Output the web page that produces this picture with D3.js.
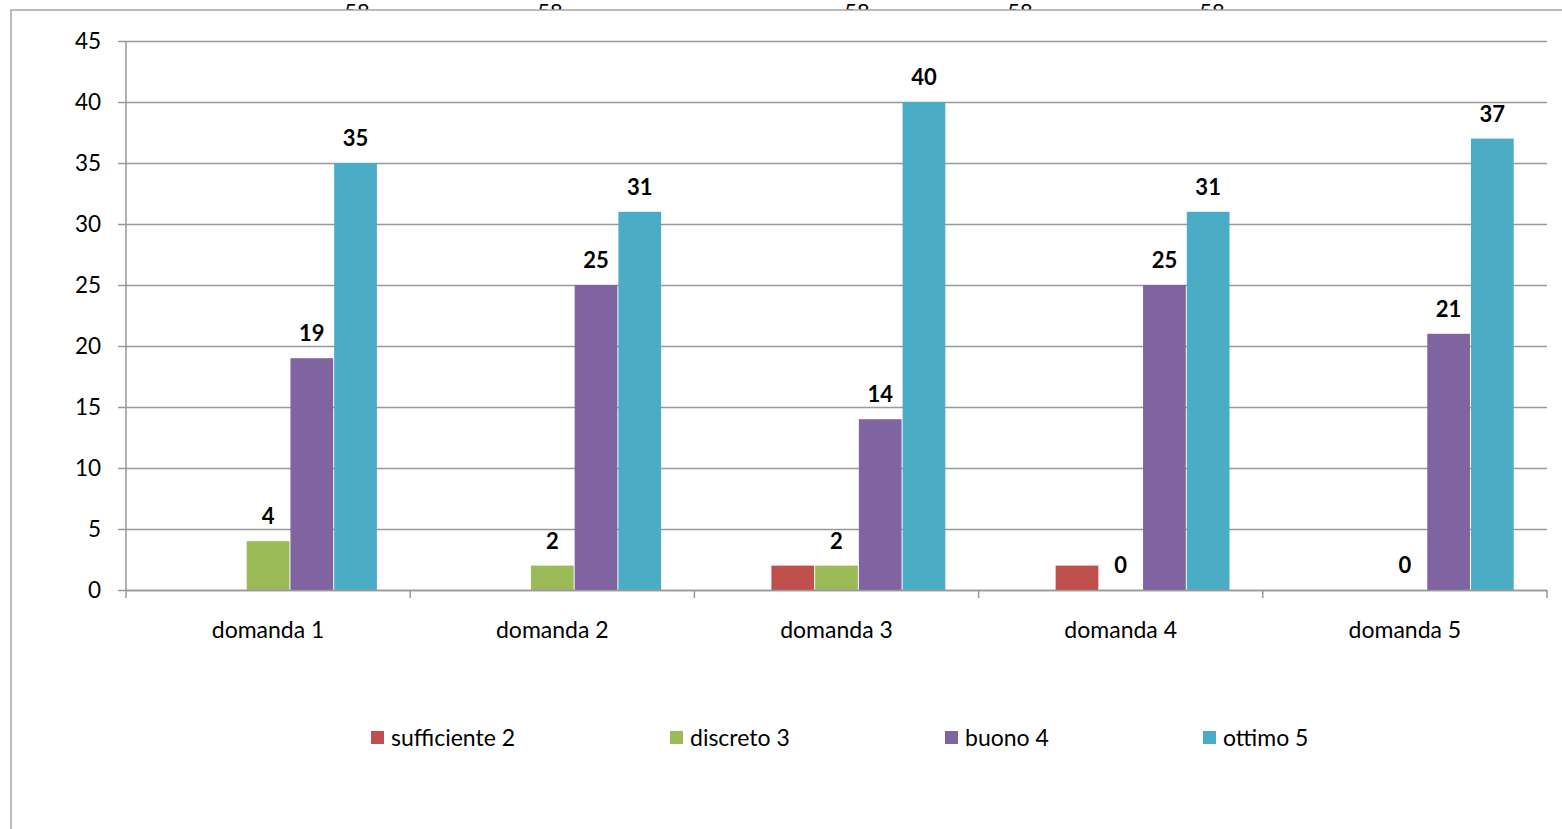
<!DOCTYPE html>
<html>
<head>
<meta charset="utf-8">
<script src="https://cdn.jsdelivr.net/npm/d3@7"></script>
<style>
body { margin:0; background:#fff; }
svg text { font-family: Lato, "Open Sans", sans-serif; fill:#000; }
</style>
</head>
<body>
<svg id="chart" width="1562" height="829"></svg>
<script>
// data
var categories = ["domanda 1","domanda 2","domanda 3","domanda 4","domanda 5"];
var seriesNames = ["totale","sufficiente 2","discreto 3","buono 4","ottimo 5"];
var totale      = [58,58,58,58,58];
var sufficiente = [0,0,2,2,0];
var discreto    = [4,2,2,0,0];
var buono       = [19,25,14,25,21];
var ottimo      = [35,31,40,31,37];
var yTicks = [0,5,10,15,20,25,30,35,40,45];
// where the (clipped) total labels sit, in category units along the axis
var totaleLabelPos = [0.813,1.492,2.572,3.146,3.821];

var colors = {"sufficiente 2":"#C0504D","discreto 3":"#9BBB59","buono 4":"#8064A2","ottimo 5":"#4BACC6"};
var values = {"totale":totale,"sufficiente 2":sufficiente,"discreto 3":discreto,"buono 4":buono,"ottimo 5":ottimo};
var showLabels = {"totale":false,"sufficiente 2":false,"discreto 3":true,"buono 4":true,"ottimo 5":true};

var svg = d3.select("#chart");
var plotLeft = 126, plotRight = 1547, plotTop = 41, plotBottom = 590;

var x0 = d3.scaleBand().domain(categories).range([plotLeft,plotRight]).padding(0);
var bw = x0.bandwidth();
var gap = bw*0.75/6.5;
var x1 = d3.scaleBand().domain(seriesNames).range([gap, bw-gap]).padding(0);
var xPos = d3.scaleLinear().domain([0,5]).range([plotLeft,plotRight]);
var y = d3.scaleLinear().domain([0,45]).range([plotBottom,plotTop]);

// clipped total labels behind the chart area
svg.append("g").selectAll("text").data(totale).enter().append("text")
	.attr("x",function(d,i){return xPos(totaleLabelPos[i])})
	.attr("y",19)
	.attr("text-anchor","middle")
	.style("font-size","22px")
	.text(function(d){return d});

// chart area
svg.append("rect")
	.attr("x",11).attr("y",10).attr("width",1600).attr("height",900)
	.attr("fill","#fff").attr("stroke","#a6a6a6").attr("stroke-width",1.5);

// gridlines + y ticks
var gy = svg.append("g");
gy.selectAll("line").data(yTicks).enter().append("line")
	.attr("x1",118).attr("x2",plotRight)
	.attr("y1",function(d){return Math.round(y(d))+0.5})
	.attr("y2",function(d){return Math.round(y(d))+0.5})
	.attr("stroke","#999").attr("stroke-width",1.5);
gy.selectAll("text").data(yTicks).enter().append("text")
	.attr("x",101)
	.attr("y",function(d){return y(d)+8})
	.attr("text-anchor","end")
	.style("font-size","22.5px")
	.text(function(d){return d});

// bars
var groups = svg.append("g").selectAll("g").data(categories).enter().append("g")
	.attr("transform",function(d){return "translate("+x0(d)+",0)"});

seriesNames.slice(1).forEach(function(s){
	groups.append("rect")
		.attr("x",x1(s)+0.5)
		.attr("width",x1.bandwidth()-1)
		.attr("y",function(d,i){return y(values[s][i])})
		.attr("height",function(d,i){return plotBottom-y(values[s][i])})
		.attr("fill",colors[s]);
});

// axes lines
svg.append("line").attr("x1",plotLeft).attr("x2",plotLeft).attr("y1",plotTop).attr("y2",plotBottom)
	.attr("stroke","#999").attr("stroke-width",1.5);
svg.append("line").attr("x1",plotLeft).attr("x2",plotRight).attr("y1",plotBottom+0.5).attr("y2",plotBottom+0.5)
	.attr("stroke","#999").attr("stroke-width",1.5);
svg.append("g").selectAll("line").data(d3.range(6)).enter().append("line")
	.attr("x1",function(d){return xPos(d)}).attr("x2",function(d){return xPos(d)})
	.attr("y1",plotBottom).attr("y2",plotBottom+8)
	.attr("stroke","#999").attr("stroke-width",1.5);

// data labels
seriesNames.forEach(function(s){
	if (!showLabels[s]) return;
	groups.append("text")
		.attr("x",x1(s)+x1.bandwidth()/2)
		.attr("y",function(d,i){return y(values[s][i])-17})
		.attr("text-anchor","middle")
		.style("font-size","22px").style("font-weight","bold")
		.text(function(d,i){return values[s][i]});
});

// category labels
svg.append("g").selectAll("text").data(categories).enter().append("text")
	.attr("x",function(d){return x0(d)+bw/2})
	.attr("y",638)
	.attr("text-anchor","middle")
	.style("font-size","23px")
	.text(function(d){return d});

// legend
var legendX = [371,670,945,1203];
var lg = svg.append("g").selectAll("g").data(seriesNames.slice(1)).enter().append("g")
	.attr("transform",function(d,i){return "translate("+legendX[i]+",731)"});
lg.append("rect").attr("width",13).attr("height",13).attr("fill",function(d){return colors[d]});
lg.append("text").attr("x",20).attr("y",15).style("font-size","23px").text(function(d){return d});
</script>
</body>
</html>
